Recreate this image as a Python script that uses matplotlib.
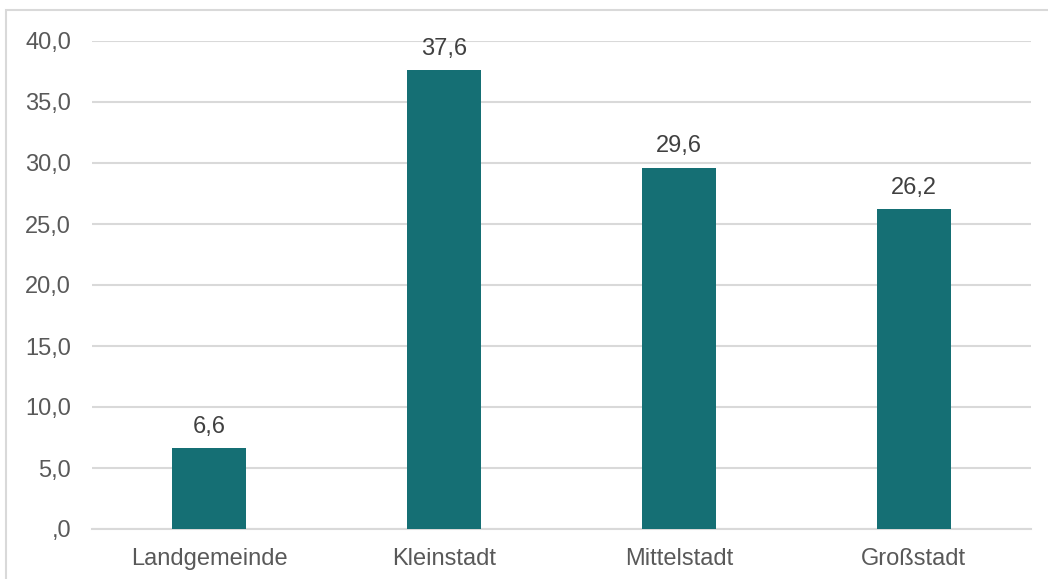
import matplotlib.pyplot as plt
from matplotlib.patches import Rectangle

# Data
categories = ["Landgemeinde", "Kleinstadt", "Mittelstadt", "Großstadt"]
values = [6.6, 37.6, 29.6, 26.2]
y_ticks = [0, 5, 10, 15, 20, 25, 30, 35, 40]
y_tick_labels = [",0", "5,0", "10,0", "15,0", "20,0", "25,0", "30,0", "35,0", "40,0"]

bar_color = "#156f74"
text_color = "#595959"
label_color = "#404040"
grid_color = "#d9d9d9"

plt.rcParams["font.family"] = ["Liberation Sans", "DejaVu Sans"]

fig = plt.figure(figsize=(10.48, 5.79), dpi=100)
ax = fig.add_axes([92 / 1048, 50 / 579, 939 / 1048, 488 / 579])

x = range(len(categories))
ax.bar(x, values, width=0.315, color=bar_color, zorder=3)

# Value labels
for xi, v in zip(x, values):
    ax.annotate(f"{v:.1f}".replace(".", ","), (xi, v),
                xytext=(0, 7.5), textcoords="offset points",
                ha="center", va="bottom", fontsize=17, color=label_color)

ax.set_xlim(-0.5, len(categories) - 0.5)
ax.set_ylim(0, 40)
ax.set_yticks(y_ticks)
ax.set_yticklabels(y_tick_labels)
ax.set_xticks(list(x))
ax.set_xticklabels(categories)

ax.tick_params(axis="y", length=0, pad=15, labelsize=17, labelcolor=text_color)
ax.tick_params(axis="x", length=0, pad=13.5, labelsize=17, labelcolor=text_color)

ax.grid(axis="y", color=grid_color, linewidth=1.5, zorder=0)
for s in ["top", "right", "left"]:
    ax.spines[s].set_visible(False)
ax.spines["bottom"].set_color(grid_color)
ax.spines["bottom"].set_linewidth(1.5)

# Chart border
fig.patches.append(Rectangle((6 / 1048, -0.05), 1.2, (569 / 579) + 0.05,
                             transform=fig.transFigure, fill=False,
                             edgecolor=grid_color, linewidth=1.5))

fig.savefig("out.png", dpi=100)
